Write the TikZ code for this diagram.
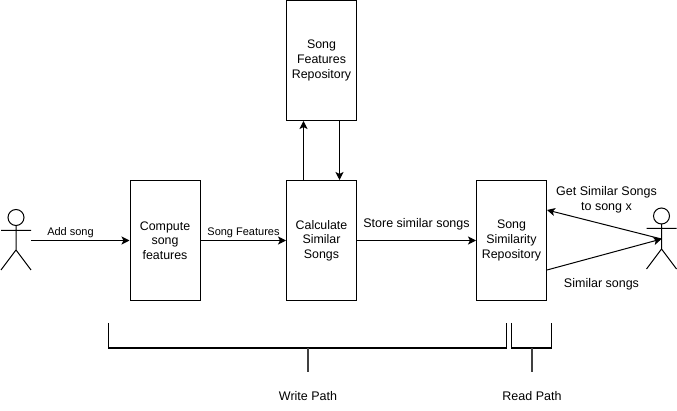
\documentclass[tikz,border=0pt]{standalone}
\usepackage{fontspec}
\setmainfont{Liberation Sans}
\usetikzlibrary{arrows.meta}
\tikzset{
  boxnode/.style={draw=black,line width=1pt,fill=white,minimum width=70pt,minimum height=120pt,inner sep=0pt,align=center,font=\fontsize{12.4}{14.7}\selectfont},
  lbl/.style={inner sep=0pt,align=center,font=\fontsize{12.5}{15}\selectfont},
  lblsm/.style={inner sep=0pt,align=center,font=\fontsize{11}{13}\selectfont},
  conn/.style={draw=black,line width=1pt,-{Stealth[length=8pt,width=8pt,inset=2pt]}},
  plain/.style={draw=black,line width=1pt},
  bracket/.style={draw=black,line width=1.6pt},
  stem/.style={draw=black!75,line width=1.6pt}
}
\begin{document}
\begin{tikzpicture}[x=1pt,y=-1pt]
\useasboundingbox (0,0) rectangle (677,411);
\fill[white] (0,0) rectangle (677,411);
\node[boxnode] (compute) at (165,240.5) {Compute\\song\\features};
\node[boxnode] (calc) at (321.5,240.5) {Calculate\\Similar\\Songs};
\node[boxnode] (sim) at (511.5,240.5) {Song\\Similarity\\Repository};
\node[boxnode] (repo) at (321.5,60.5) {Song\\Features\\Repository};
% left actor
\coordinate (uhand) at (31,240.5);
\draw[plain] (16,217.5) circle (8);
\draw[plain] (16,225.5) -- (16,250) (1,230.5) -- (31,230.5) (16,250) -- (1,270) (16,250) -- (31,270);
% right actor
\coordinate (vhand) at (661.5,239);
\draw[plain] (661.5,216) circle (8);
\draw[plain] (661.5,224) -- (661.5,249) (646.5,228.5) -- (676.5,228.5) (661.5,249) -- (646.5,269) (661.5,249) -- (676.5,269);
% connectors
\draw[conn] (uhand) -- (compute.west);
\draw[conn] (compute.east) -- (calc.west);
\draw[conn] (calc.east) -- (sim.west);
\draw[conn] ([xshift=-18pt]calc.north) -- ([xshift=-18pt]repo.south);
\draw[conn] ([xshift=18pt]repo.south) -- ([xshift=18pt]calc.north);
\draw[conn] (vhand) -- (sim.east |- 0,210);
\draw[conn] (sim.east |- 0,270) -- (vhand);
% labels
\node[lblsm] (l1) at (70.5,232.5) {Add song};
\node[lblsm] (l2) at (243.5,232.5) {Song Features};
\node[lbl] (l3) at (416.5,224.5) {Store similar songs};
\node[lbl] (l4) at (606.5,199.5) {Get Similar Songs\\to song x};
\node[lbl] (l5) at (601.5,284) {Similar songs};
\node[lbl] (l6) at (308,396) {Write Path};
\node[lbl] (l7) at (532,396) {Read Path};
% brackets
\draw[bracket] (108.5,323) -- (108.5,348) -- (506.5,348) -- (506.5,323);
\draw[stem] (308,348) -- (308,372);
\draw[bracket] (511.5,323) -- (511.5,348) -- (551.5,348) -- (551.5,323);
\draw[stem] (532,348) -- (532,372);
\end{tikzpicture}
\end{document}
